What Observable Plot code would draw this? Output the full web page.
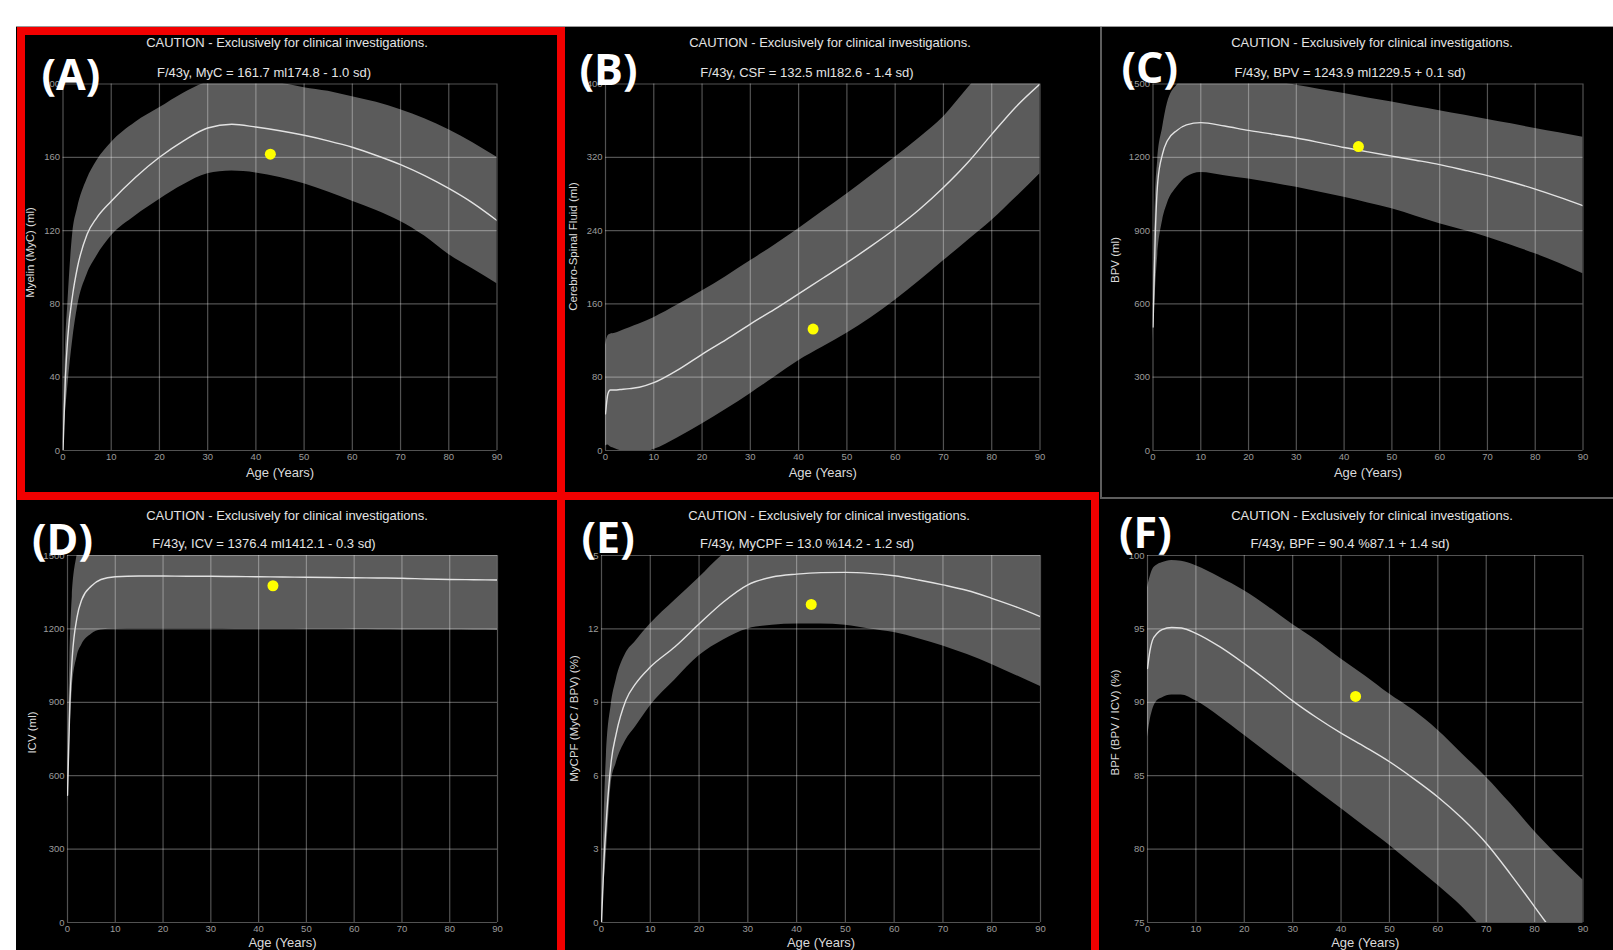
<!DOCTYPE html>
<html>
<head>
<meta charset="utf-8">
<script src="https://cdn.jsdelivr.net/npm/d3@7"></script>
<script src="https://cdn.jsdelivr.net/npm/@observablehq/plot@0.6"></script>
<style>
html,body{margin:0;padding:0;background:#fff;}
#root{position:relative;width:1613px;height:950px;overflow:hidden;background:#fff;font-family:"Liberation Sans",Arial,sans-serif;}
#black{position:absolute;left:16px;top:26px;right:0;bottom:0;background:#000;border-top:1px solid #9a9a9a;}
.panel{position:absolute;}
.panel svg{display:block;}
.caution,.sub{position:absolute;color:#e4e4e4;font-size:13px;white-space:nowrap;transform:translate(-50%,-50%);font-family:"Liberation Sans",Arial,sans-serif;}
.tag{position:absolute;color:#fff;font-family:"Open Sans",sans-serif;font-weight:700;font-size:43px;line-height:1;white-space:nowrap;}
.red{position:absolute;border:8px solid #f20000;box-sizing:border-box;}
.sep{position:absolute;background:#5e5e5e;}
</style>
</head>
<body>
<div id="root"><div id="black"></div></div>
<script>
// ---------------- data ----------------
const ages = [0, 0.5, 1, 2, 3, 5, 7, 10, 15, 20, 25, 30, 35, 40, 45, 50, 55, 60, 65, 70, 75, 80, 85, 90];
const xTicks = [0, 10, 20, 30, 40, 50, 60, 70, 80, 90];
const patientAge = 43;

// (A) Myelin MyC (ml)
const myelinMean  = [0, 40, 62, 85, 100, 118, 127, 136, 149, 160, 169, 176, 178, 176.5, 174.5, 172, 169, 165.5, 161, 156, 150, 143, 135, 125.5];
const myelinUpper = [0, 55, 80, 118, 132, 148, 158, 168, 179, 187, 195, 201, 203, 202, 200.5, 198, 196, 193, 190, 186, 181, 175, 168, 160];
const myelinLower = [0, 20, 35, 60, 78, 96, 106, 117, 128, 137, 145, 151, 152.5, 151.5, 149, 145.5, 141, 136, 131, 125, 117, 107, 99, 91];
const myelinTicks = [0, 40, 80, 120, 160, 200];

// (B) CSF (ml)
const csfMean  = [40, 62, 66, 66, 66.5, 67.5, 69, 74, 88, 105, 121, 138, 154, 171, 188, 205, 223, 242, 263, 287, 314, 345, 375, 400];
const csfUpper = [115, 125, 127, 128, 130, 134, 138, 145, 159, 174, 190, 207, 224, 242, 261, 280, 300, 320, 341, 364, 395, 425, 455, 485];
const csfLower = [5, 6, 4, 2, 0, -3, -3, 1, 14, 29, 45, 62, 80, 98, 113, 128, 145, 164, 185, 207, 229, 251, 276, 302];
const csfTicks = [0, 80, 160, 240, 320, 400];

// (C) BPV (ml)
const bpvMean  = [505, 900, 1100, 1214, 1268, 1310, 1333, 1342, 1328, 1310, 1295, 1279, 1260, 1240, 1222, 1205, 1188, 1170, 1148, 1125, 1099, 1070, 1037, 1002];
const bpvUpper = [600, 1030, 1190, 1320, 1420, 1495, 1520, 1535, 1535, 1528, 1512, 1495, 1478, 1461, 1443, 1426, 1408, 1391, 1373, 1355, 1337, 1318, 1300, 1282];
const bpvLower = [450, 650, 800, 940, 1010, 1077, 1118, 1138, 1125, 1111, 1095, 1077, 1057, 1036, 1013, 989, 959, 928, 901, 873, 840, 805, 766, 723];
const volTicks = [0, 300, 600, 900, 1200, 1500];

// (D) ICV (ml)
const icvMean  = [520, 900, 1085, 1248, 1320, 1375, 1402, 1413, 1416, 1416, 1415, 1415, 1414, 1413, 1412, 1411, 1410, 1409, 1408, 1407, 1404, 1402, 1401, 1400];
const icvUpper = [560, 1080, 1330, 1500, 1580, 1620, 1630, 1632, 1632, 1632, 1631, 1631, 1630, 1630, 1629, 1628, 1627, 1626, 1624, 1622, 1620, 1618, 1616, 1614];
const icvLower = [480, 760, 950, 1085, 1135, 1178, 1195, 1200, 1201, 1201, 1201, 1201, 1200, 1200, 1200, 1199, 1199, 1198, 1197, 1196, 1195, 1195, 1194, 1193];

// (E) MyCPF (%)
const mycpfMean  = [0, 2.5, 4.2, 6.6, 7.7, 9.08, 9.76, 10.44, 11.26, 12.2, 13.1, 13.8, 14.12, 14.24, 14.3, 14.31, 14.27, 14.17, 14.0, 13.8, 13.57, 13.25, 12.9, 12.5];
const mycpfUpper = [0, 4, 6.8, 8.9, 9.9, 11.0, 11.5, 12.2, 13.16, 14.09, 15.05, 15.7, 16.1, 16.25, 16.32, 16.38, 16.38, 16.3, 16.15, 15.95, 15.75, 15.6, 15.45, 15.35];
const mycpfLower = [0, 1.5, 2.8, 5.7, 6.5, 7.45, 8.0, 8.85, 9.9, 10.9, 11.55, 12.0, 12.15, 12.2, 12.2, 12.15, 12.0, 11.85, 11.6, 11.3, 10.95, 10.55, 10.1, 9.65];
const mycpfTicks = [0, 3, 6, 9, 12, 15];

// (F) BPF (%)
const bpfMean  = [92.3, 93.5, 94.2, 94.7, 94.95, 95.1, 95.06, 94.7, 93.77, 92.63, 91.4, 90.1, 88.95, 87.9, 86.95, 85.95, 84.8, 83.55, 82.1, 80.4, 78.3, 76.07, 73.8, 71.5];
const bpfUpper = [97.8, 98.5, 99.0, 99.35, 99.5, 99.66, 99.6, 99.3, 98.5, 97.6, 96.5, 95.3, 94.2, 92.95, 91.8, 90.57, 89.45, 88.1, 86.5, 84.9, 83.1, 81.2, 79.5, 77.9];
const bpfLower = [87.6, 88.7, 89.4, 90.1, 90.3, 90.5, 90.5, 90.1, 89.0, 87.75, 86.5, 85.26, 84.0, 82.76, 81.5, 80.27, 78.9, 77.54, 76.07, 74.3, 72.3, 70.2, 68, 65.8];
const bpfTicks = [75, 80, 85, 90, 95, 100];

// patient summary values
const panelTags    = ["(A)", "(B)", "(C)", "(D)", "(E)", "(F)"];
const measureNames = ["MyC", "CSF", "BPV", "ICV", "MyCPF", "BPF"];
const measureUnits = ["ml", "ml", "ml", "ml", "%", "%"];
const patientValues = [161.7, 132.5, 1243.9, 1376.4, 13.0, 90.4];
const expectedValues = [174.8, 182.6, 1229.5, 1412.1, 14.2, 87.1];
const sdValues = [-1.0, -1.4, 0.1, -0.3, -1.2, 1.4];
const yTitles = ["Myelin (MyC) (ml)", "Cerebro-Spinal Fluid (ml)", "BPV (ml)", "ICV (ml)", "MyCPF (MyC / BPV) (%)", "BPF (BPV / ICV) (%)"];
const cautionText = "CAUTION - Exclusively for clinical investigations.";
const xTitle = "Age (Years)";

// ---------------- layout ----------------
const series = [
  [myelinMean, myelinUpper, myelinLower, myelinTicks],
  [csfMean, csfUpper, csfLower, csfTicks],
  [bpvMean, bpvUpper, bpvLower, volTicks],
  [icvMean, icvUpper, icvLower, volTicks],
  [mycpfMean, mycpfUpper, mycpfLower, mycpfTicks],
  [bpfMean, bpfUpper, bpfLower, bpfTicks]
];
const layout = [
  {left: 17,   top: 27,  w: 544, h: 469, mL: 45.5, mR: 64.5, mT: 56.5, mB: 46, xdy: 22, ydx: -32.5, ydy: -14.75, cx: 287,  cy: 42,  sx: 264,  sy: 72,  tx: 41.5,  ty: 52},
  {left: 561,  top: 27,  w: 539, h: 469, mL: 44,   mR: 60.5, mT: 56.5, mB: 46, xdy: 22, ydx: -32.5, ydy: -20.75, cx: 830,  cy: 42,  sx: 807,  sy: 72,  tx: 579.5, ty: 47},
  {left: 1102, top: 27,  w: 511, h: 470, mL: 50.5, mR: 30.5, mT: 56.5, mB: 47, xdy: 22, ydx: -37.5, ydy: -7.25,  cx: 1372, cy: 42,  sx: 1350, sy: 72,  tx: 1121.5, ty: 45},
  {left: 17,   top: 496, w: 544, h: 454, mL: 50,   mR: 64,   mT: 59,   mB: 28, xdy: 20, ydx: -35.6, ydy: -6.5,   cx: 287,  cy: 515, sx: 264,  sy: 543, tx: 32,    ty: 517},
  {left: 561,  top: 496, w: 535, h: 454, mL: 40,   mR: 56,   mT: 59,   mB: 28, xdy: 20, ydx: -27,   ydy: -20.5,  cx: 829,  cy: 515, sx: 807,  sy: 543, tx: 581.5, ty: 515},
  {left: 1102, top: 499, w: 511, h: 451, mL: 45,   mR: 30.5, mT: 56,   mB: 28, xdy: 20, ydx: -32,   ydy: -16.5,  cx: 1372, cy: 515, sx: 1350, sy: 543, tx: 1119,  ty: 510}
];

const root = document.getElementById("root");
const fmt = d => String(d);

function makePanel(i) {
  const [mean, upper, lower, yTicks] = series[i];
  const L = layout[i];
  const data = ages.map((a, k) => ({age: a, mean: mean[k], hi: upper[k], lo: lower[k]}));
  const tickColor = "#9c9c9c";
  const plot = Plot.plot({
    width: L.w, height: L.h,
    marginLeft: L.mL, marginRight: L.mR, marginTop: L.mT, marginBottom: L.mB,
    style: {background: "#000", color: tickColor, fontFamily: "Liberation Sans, Arial, sans-serif", fontSize: "10px", overflow: "visible"},
    x: {domain: [0, 90], label: null},
    y: {domain: [yTicks[0], yTicks[yTicks.length - 1]], label: null},
    marks: [
      Plot.areaY(data, {x: "age", y1: "lo", y2: "hi", fill: "#5b5b5b", curve: "monotone-x", clip: true}),
      Plot.ruleX(xTicks, {stroke: "#fff", strokeOpacity: 0.32, strokeWidth: 1.2}),
      Plot.ruleY(yTicks, {stroke: "#fff", strokeOpacity: 0.32, strokeWidth: 1.2}),
      Plot.line(data, {x: "age", y: "mean", stroke: "#e2e2e2", strokeWidth: 1.4, curve: "monotone-x", clip: true}),
      Plot.dot([{age: patientAge, v: patientValues[i]}], {x: "age", y: "v", r: 5.5, fill: "#ffff00", stroke: "none"}),
      Plot.axisX(xTicks, {tickSize: 0, tickPadding: 3, fill: tickColor, fontSize: 9.5, tickFormat: fmt}),
      Plot.axisY(yTicks, {tickSize: 0, tickPadding: 3, fill: tickColor, fontSize: 9.5, tickFormat: fmt}),
      Plot.text([xTitle], {text: d => d, frameAnchor: "bottom", dy: L.xdy, textAnchor: "middle", lineAnchor: "middle", fill: "#dadada", fontSize: 13}),
      Plot.text([yTitles[i]], {text: d => d, frameAnchor: "left", rotate: -90, dx: L.ydx, dy: L.ydy, textAnchor: "middle", lineAnchor: "middle", fill: "#dadada", fontSize: 11.5})
    ]
  });
  const box = document.createElement("div");
  box.className = "panel";
  box.style.left = L.left + "px";
  box.style.top = L.top + "px";
  box.appendChild(plot);
  root.appendChild(box);
}

for (let i = 0; i < 6; i++) makePanel(i);

// panel frames: red highlight boxes and gray separators
function addDiv(cls, css) {
  const d = document.createElement("div");
  d.className = cls;
  Object.assign(d.style, css);
  root.appendChild(d);
  return d;
}
addDiv("sep", {left: "1100px", top: "27px", width: "2px", height: "472px"});
addDiv("sep", {left: "1100px", top: "497px", width: "513px", height: "2px"});
addDiv("red", {left: "17px", top: "27px", width: "548px", height: "473px"});
addDiv("red", {left: "557px", top: "492px", width: "542px", height: "500px"});

// texts
for (let i = 0; i < 6; i++) {
  const L = layout[i];
  const c = addDiv("caution", {left: L.cx + "px", top: L.cy + "px"});
  c.textContent = cautionText;
  const sd = sdValues[i];
  const s = addDiv("sub", {left: L.sx + "px", top: L.sy + "px"});
  s.textContent = `F/${patientAge}y, ${measureNames[i]} = ${patientValues[i].toFixed(1)} ${measureUnits[i]}${expectedValues[i].toFixed(1)} ${sd < 0 ? "-" : "+"} ${Math.abs(sd).toFixed(1)} sd)`;
  const t = addDiv("tag", {left: L.tx + "px", top: L.ty + "px"});
  t.textContent = panelTags[i];
}
</script>
</body>
</html>
